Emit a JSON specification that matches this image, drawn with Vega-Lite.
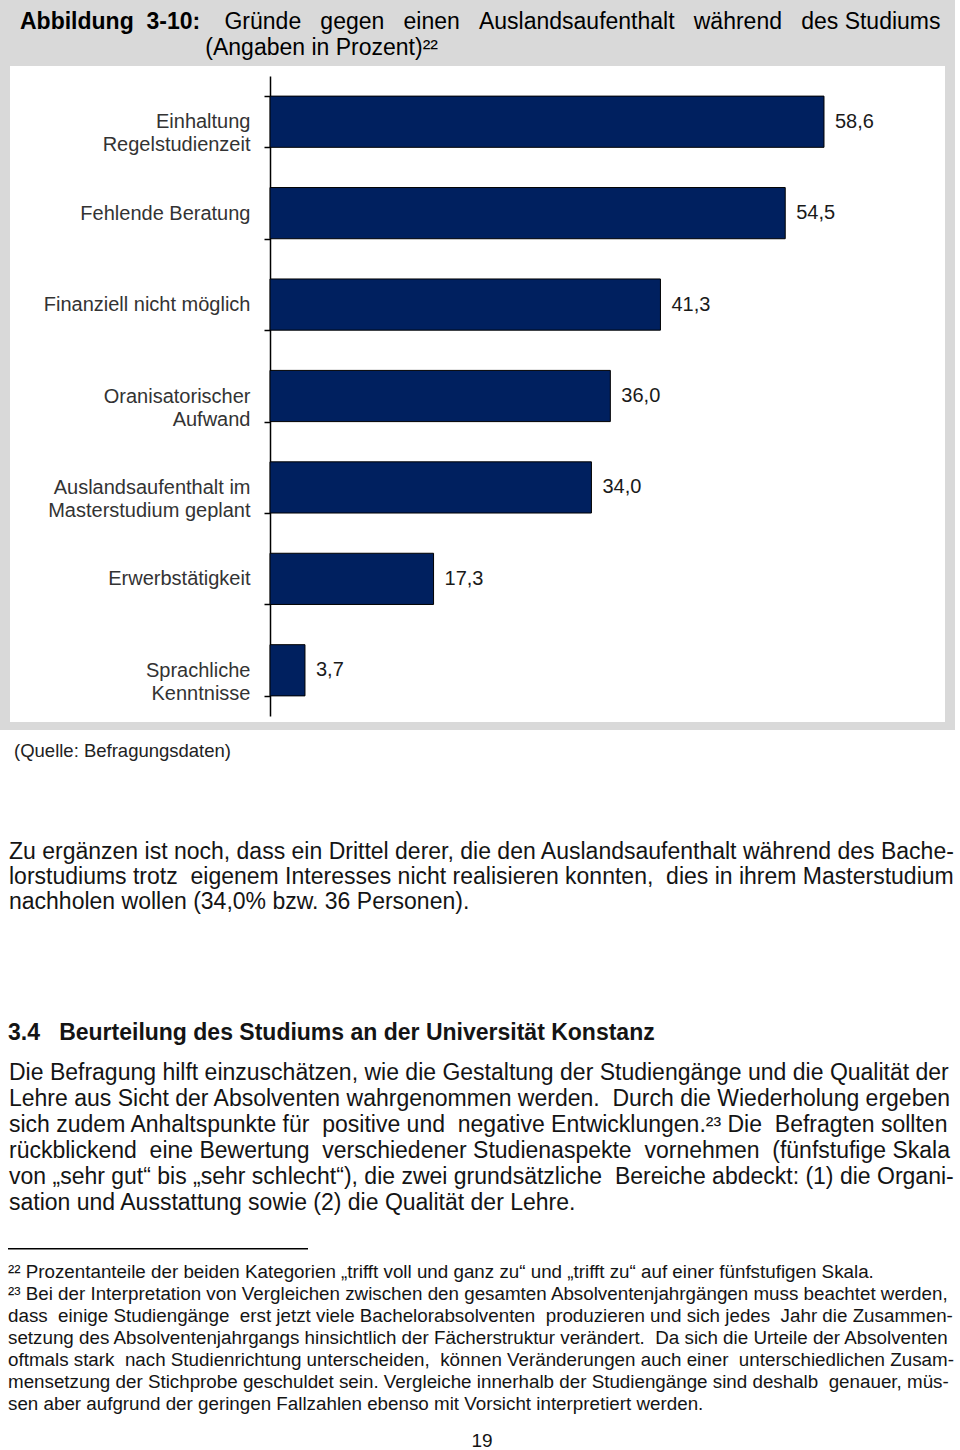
{
  "$schema": "https://vega.github.io/schema/vega-lite/v6.json",
  "usermeta": {"embedOptions": {"actions": false}},
  "background": "white",
  "padding": 0,
  "bounds": "full",
  "spacing": 0,
  "vconcat": [
    {
      "bounds": "full",
      "spacing": 0,
      "hconcat": [
        {"width": 10, "height": 722, "view": {"fill": "#d9d9d9"}, "data": {"values": []}, "mark": "rect"},
        {
          "bounds": "full",
          "spacing": 0,
          "vconcat": [
            {
              "width": 935, "height": 66,
              "view": {"fill": "#d9d9d9"},
              "data": {"values": []},
              "mark": "rect",
              "title": {
                "text": "Abbildung\u00a0\u00a03-10:",
                "fontWeight": "bold", "fontSize": 23, "dx": 10, "offset": -55, "color": "#000000",
                "subtitle": [
                  "\u200b\u00a0\u00a0\u00a0\u00a0\u00a0\u00a0\u00a0\u00a0\u00a0\u00a0\u00a0\u00a0\u00a0\u00a0\u00a0\u00a0\u00a0\u00a0\u00a0\u00a0\u00a0\u00a0\u00a0\u00a0\u00a0\u00a0\u00a0\u00a0\u00a0\u00a0\u00a0\u00a0Gründe \u00a0\u00a0gegen \u00a0\u00a0einen \u00a0\u00a0Auslandsaufenthalt \u00a0\u00a0während \u00a0\u00a0des Studiums",
                  "\u200b\u00a0\u00a0\u00a0\u00a0\u00a0\u00a0\u00a0\u00a0\u00a0\u00a0\u00a0\u00a0\u00a0\u00a0\u00a0\u00a0\u00a0\u00a0\u00a0\u00a0\u00a0\u00a0\u00a0\u00a0\u00a0\u00a0\u00a0\u00a0\u00a0(Angaben in Prozent)²²"
                ],
                "subtitleFont": "Liberation Sans",
                "subtitleFontSize": 23,
                "subtitleFontWeight": "normal",
                "subtitleColor": "#000000",
                "subtitleLineHeight": 26,
                "subtitlePadding": -23
              }
            },
            {
              "bounds": "flush",
              "spacing": 0,
              "hconcat": [
                {"width": 260, "height": 645, "data": {"values": []}, "mark": "rect"},
                {
                  "width": 675,
                  "height": 640,
                  "data": {
                    "values": [
                      {"grund": "Einhaltung|Regelstudienzeit", "wert": 58.6},
                      {"grund": "Fehlende Beratung", "wert": 54.5},
                      {"grund": "Finanziell nicht möglich", "wert": 41.3},
                      {"grund": "Oranisatorischer|Aufwand", "wert": 36.0},
                      {"grund": "Auslandsaufenthalt im|Masterstudium geplant", "wert": 34.0},
                      {"grund": "Erwerbstätigkeit", "wert": 17.3},
                      {"grund": "Sprachliche|Kenntnisse", "wert": 3.7}
                    ]
                  },
                  "encoding": {
                    "y": {
                      "field": "grund", "type": "nominal", "sort": null,
                      "scale": {"paddingInner": 0.44, "paddingOuter": 0.22},
                      "axis": {
                        "title": null,
                        "labelExpr": "split(datum.label, '|')",
                        "labelFont": "Liberation Sans",
                        "labelFontSize": 20,
                        "labelColor": "#333333",
                        "labelLineHeight": 23,
                        "labelLimit": 300,
                        "labelPadding": 14,
                        "labelAlign": "right",
                        "labelBaseline": "middle",
                        "tickBand": "extent",
                        "tickSize": 6,
                        "tickColor": "#000000",
                        "tickWidth": 1.5,
                        "domainColor": "#000000",
                        "domainWidth": 1.5,
                        "grid": false
                      }
                    },
                    "x": {
                      "field": "wert", "type": "quantitative",
                      "scale": {"domain": [0, 71.4], "nice": false},
                      "axis": null
                    }
                  },
                  "layer": [
                    {"mark": {"type": "bar", "fill": "#00205f", "stroke": "#000000", "strokeWidth": 1}},
                    {
                      "mark": {"type": "text", "align": "left", "baseline": "middle", "dx": 11, "fontSize": 20, "color": "#1a1a1a"},
                      "encoding": {"text": {"field": "wert", "type": "quantitative", "format": ".1f"}}
                    }
                  ]
                }
              ]
            }
          ]
        },
        {"width": 10, "height": 722, "view": {"fill": "#d9d9d9"}, "data": {"values": []}, "mark": "rect"}
      ]
    },
    {"width": 955, "height": 8, "view": {"fill": "#d9d9d9"}, "data": {"values": []}, "mark": "rect"},
    {
      "width": 955, "height": 40, "data": {"values": []}, "mark": "rect",
      "title": {"text": "(Quelle: Befragungsdaten)", "fontSize": 18.5, "dx": 14, "offset": -28, "color": "#222222"}
    },
    {
      "width": 955, "height": 165, "data": {"values": []}, "mark": "rect",
      "title": {
        "text": [
          "Zu ergänzen ist noch, dass ein Drittel derer, die den Auslandsaufenthalt während des Bache-",
          "lorstudiums trotz \u00a0eigenem Interesses nicht realisieren konnten, \u00a0dies in ihrem Masterstudium",
          "nachholen wollen (34,0% bzw. 36 Personen)."
        ],
        "fontSize": 23, "lineHeight": 25, "dx": 9, "offset": -94
      }
    },
    {
      "width": 955, "height": 125, "data": {"values": []}, "mark": "rect",
      "title": {"text": "3.4\u00a0\u00a0 Beurteilung des Studiums an der Universität Konstanz", "fontSize": 23, "fontWeight": "bold", "dx": 8, "offset": -38}
    },
    {
      "width": 955, "height": 187.5, "data": {"values": []}, "mark": "rect",
      "title": {
        "text": [
          "Die Befragung hilft einzuschätzen, wie die Gestaltung der Studiengänge und die Qualität der",
          "Lehre aus Sicht der Absolventen wahrgenommen werden. \u00a0Durch die Wiederholung ergeben",
          "sich zudem Anhaltspunkte für \u00a0positive und \u00a0negative Entwicklungen.²³ Die \u00a0Befragten sollten",
          "rückblickend \u00a0eine Bewertung \u00a0verschiedener Studienaspekte \u00a0vornehmen \u00a0(fünfstufige Skala",
          "von „sehr gut“ bis „sehr schlecht“), die zwei grundsätzliche \u00a0Bereiche abdeckt: (1) die Organi-",
          "sation und Ausstattung sowie (2) die Qualität der Lehre."
        ],
        "fontSize": 23, "lineHeight": 26, "dx": 9, "offset": -185.5
      }
    },
    {
      "bounds": "flush",
      "spacing": 0,
      "hconcat": [
        {"width": 8, "height": 1.5, "data": {"values": []}, "mark": "rect"},
        {"width": 300, "height": 1.5, "view": {"fill": "#000000"}, "data": {"values": []}, "mark": "rect"}
      ]
    },
    {
      "width": 955, "height": 171, "data": {"values": []}, "mark": "rect",
      "title": {
        "text": [
          "²² Prozentanteile der beiden Kategorien „trifft voll und ganz zu“ und „trifft zu“ auf einer fünfstufigen Skala.",
          "²³ Bei der Interpretation von Vergleichen zwischen den gesamten Absolventenjahrgängen muss beachtet werden,",
          "dass \u00a0einige Studiengänge \u00a0erst jetzt viele Bachelorabsolventen \u00a0produzieren und sich jedes \u00a0Jahr die Zusammen-",
          "setzung des Absolventenjahrgangs hinsichtlich der Fächerstruktur verändert. \u00a0Da sich die Urteile der Absolventen",
          "oftmals stark \u00a0nach Studienrichtung unterscheiden, \u00a0können Veränderungen auch einer \u00a0unterschiedlichen Zusam-",
          "mensetzung der Stichprobe geschuldet sein. Vergleiche innerhalb der Studiengänge sind deshalb \u00a0genauer, müs-",
          "sen aber aufgrund der geringen Fallzahlen ebenso mit Vorsicht interpretiert werden."
        ],
        "fontSize": 18.8, "lineHeight": 22, "dx": 8, "offset": -158
      }
    },
    {
      "width": 955, "height": 30, "data": {"values": []}, "mark": "rect",
      "title": {"text": "19", "fontSize": 19, "anchor": "middle", "dx": 4.5, "offset": -19}
    }
  ],
  "config": {
    "font": "Liberation Sans",
    "view": {"stroke": null},
    "concat": {"spacing": 0},
    "axis": {"grid": false},
    "title": {
      "anchor": "start",
      "frame": "group",
      "orient": "bottom",
      "baseline": "top",
      "offset": 0,
      "color": "#141414",
      "fontWeight": "normal",
      "font": "Liberation Sans"
    },
    "locale": {
      "number": {"decimal": ",", "thousands": ".", "grouping": [3], "currency": ["", "\u00a0€"]}
    }
  }
}
